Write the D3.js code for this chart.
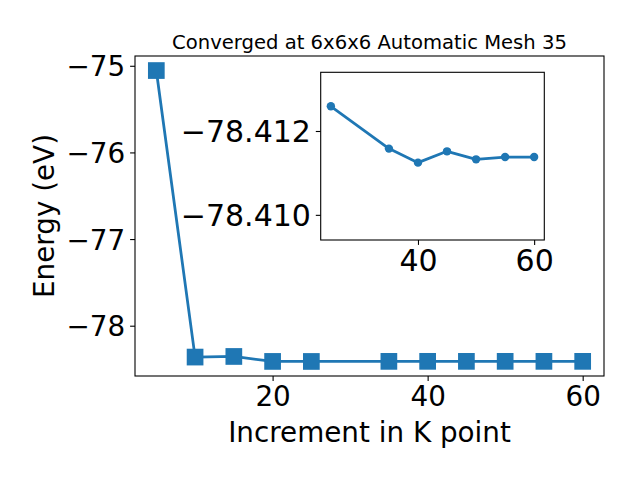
<!DOCTYPE html>
<html><head><meta charset="utf-8">
<script src="https://cdn.jsdelivr.net/npm/d3@7"></script>
<style>
html,body{margin:0;padding:0;background:#fff;}
svg{display:block;font-family:"DejaVu Sans",sans-serif;}
</style></head>
<body>
<svg id="chart" width="640" height="480"></svg>
<script>
const kpoints = [5, 10, 15, 20, 25, 35, 40, 45, 50, 55, 60];
const energies = [-75.055, -78.362, -78.355, -78.4122, -78.41259, -78.41158, -78.411245, -78.411515, -78.411324, -78.411379, -78.411379];
const insetStartIndex = 4;
const mainXTicks = [20, 40, 60];
const mainYTicks = [-78, -77, -76, -75];
const insetXTicks = [40, 60];
const insetYTicks = [-78.412, -78.410];
const insetYLimits = [-78.4094, -78.4134]; // bottom, top (inverted)
const titleText = "Converged at 6x6x6 Automatic Mesh 35";
const xLabel = "Increment in K point";
const yLabel = "Energy (eV)";

const color = "#1f77b4";
const svg = d3.select("#chart");

function pad(ext, f) { const d = (ext[1] - ext[0]) * f; return [ext[0] - d, ext[1] + d]; }

// main axes
const M = {l: 135, r: 604, t: 56, b: 376};
const x = d3.scaleLinear().domain(pad(d3.extent(kpoints), 0.05)).range([M.l, M.r]);
const y = d3.scaleLinear().domain(pad(d3.extent(energies), 0.05)).range([M.b, M.t]);
const data = kpoints.map((k, i) => ({k, e: energies[i]}));

const g = svg.append("g");
const line = d3.line().x(d => x(d.k)).y(d => y(d.e));
g.append("path").datum(data).attr("d", line).attr("fill", "none")
  .attr("stroke", color).attr("stroke-width", 2.78).attr("stroke-linejoin", "round");
const ms = 16.7;
g.selectAll("rect.m").data(data).enter().append("rect")
  .attr("x", d => x(d.k) - ms / 2).attr("y", d => y(d.e) - ms / 2)
  .attr("width", ms).attr("height", ms).attr("fill", color);

function styleAxis(sel, fs) {
  sel.select(".domain").remove();
  sel.selectAll(".tick line").attr("stroke", "#000").attr("stroke-width", 1.1);
  sel.selectAll(".tick text").attr("fill", "#000").style("font-size", fs + "px")
     .style("font-family", "DejaVu Sans");
}
const fmtMinus = f => v => f(v).replace("-", "\u2212");

const xa = g.append("g").attr("transform", `translate(0,${M.b})`)
  .call(d3.axisBottom(x).tickValues(mainXTicks).tickSize(4.9).tickPadding(4.9).tickFormat(d3.format("d")));
styleAxis(xa, 27.8);
const ya = g.append("g").attr("transform", `translate(${M.l},0)`)
  .call(d3.axisLeft(y).tickValues(mainYTicks).tickSize(4.9).tickPadding(4.9).tickFormat(fmtMinus(d3.format("d"))));
styleAxis(ya, 27.8);
ya.selectAll(".tick text").attr("dy", "0.36em");

g.append("rect").attr("x", M.l).attr("y", M.t).attr("width", M.r - M.l).attr("height", M.b - M.t)
  .attr("fill", "none").attr("stroke", "#000").attr("stroke-width", 1.1);

svg.append("text").attr("x", (M.l + M.r) / 2).attr("y", M.t - 7).attr("text-anchor", "middle")
  .style("font-size", "19.6px").text(titleText);
svg.append("text").attr("x", (M.l + M.r) / 2).attr("y", 442).attr("text-anchor", "middle")
  .style("font-size", "27.8px").text(xLabel);
svg.append("text").attr("transform", `translate(54,${(M.t + M.b) / 2}) rotate(-90)`)
  .attr("text-anchor", "middle").style("font-size", "27.8px").text(yLabel);

// inset
const I = {l: 320.7, r: 544.3, t: 72.3, b: 240};
const idata = data.slice(insetStartIndex);
const xi = d3.scaleLinear().domain(pad(d3.extent(idata, d => d.k), 0.05)).range([I.l, I.r]);
const yi = d3.scaleLinear().domain(insetYLimits).range([I.b, I.t]);
const gi = svg.append("g");
gi.append("rect").attr("x", I.l).attr("y", I.t).attr("width", I.r - I.l).attr("height", I.b - I.t)
  .attr("fill", "#fff");
gi.append("path").datum(idata).attr("d", d3.line().x(d => xi(d.k)).y(d => yi(d.e)))
  .attr("fill", "none").attr("stroke", color).attr("stroke-width", 2.78).attr("stroke-linejoin", "round");
gi.selectAll("circle").data(idata).enter().append("circle")
  .attr("cx", d => xi(d.k)).attr("cy", d => yi(d.e)).attr("r", 4.2).attr("fill", color);
const xia = gi.append("g").attr("transform", `translate(0,${I.b})`)
  .call(d3.axisBottom(xi).tickValues(insetXTicks).tickSize(4.9).tickPadding(4.9).tickFormat(d3.format("d")));
styleAxis(xia, 30);
const yia = gi.append("g").attr("transform", `translate(${I.l},0)`)
  .call(d3.axisLeft(yi).tickValues(insetYTicks).tickSize(4.9).tickPadding(4.9).tickFormat(fmtMinus(d3.format(".3f"))));
styleAxis(yia, 30);
yia.selectAll(".tick text").attr("dy", "0.36em");
gi.append("rect").attr("x", I.l).attr("y", I.t).attr("width", I.r - I.l).attr("height", I.b - I.t)
  .attr("fill", "none").attr("stroke", "#000").attr("stroke-width", 1.1);
</script>
</body></html>
